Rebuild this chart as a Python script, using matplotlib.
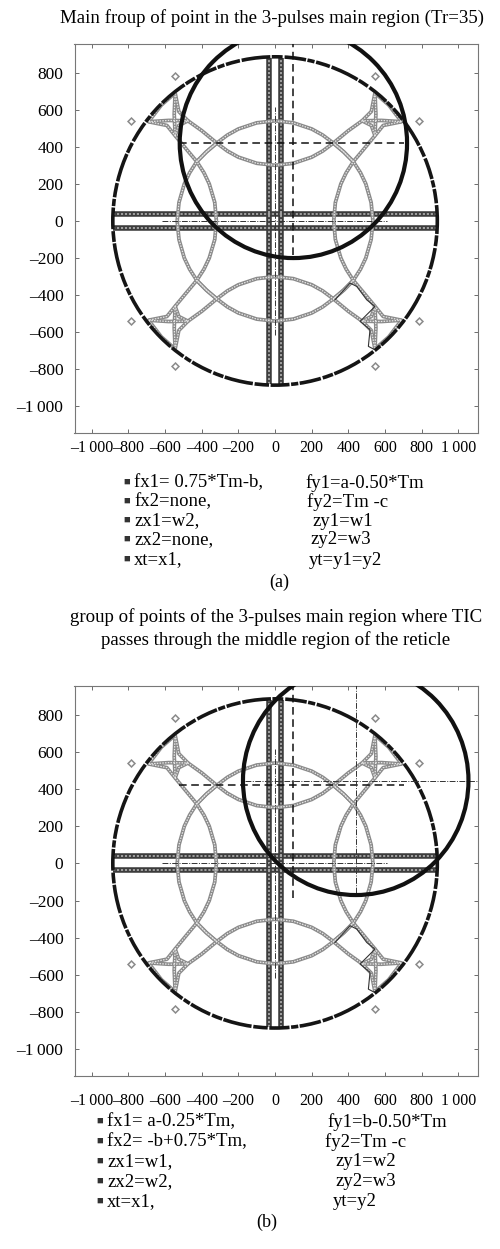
import matplotlib.pyplot as plt
from matplotlib.patches import Circle

plt.rcParams['font.family'] = ['Liberation Serif', 'DejaVu Serif']

W, H = 500, 1249

# ---- reticle geometry (same for both plots) ----
outer_r = 885
bar_x = [-35, 30]          # vertical double bar
bar_y = [38, -38]          # horizontal double bar
center_line = 615          # half length of the thin dash-dot centre cross

# upper-left quarter of the 3-pulse region boundary; other quarters are its mirror images
arc_upper_x = [0, -100, -200, -260, -318, -375, -427]
arc_upper_y = [540, 529, 496, 463, 420, 372, 320]
arc_lower_x = [0, -100, -200, -260, -318, -400, -475]
arc_lower_y = [300, 311, 344, 377, 420, 487, 540]
arc_inner_x = [-320, -329, -359, -388, -427, -488, -545]
arc_inner_y = [0, 100, 200, 260, 320, 392, 460]
arc_outer_x = [-534, -524, -495, -466, -427, -375, -318]
arc_outer_y = [0, 100, 200, 260, 320, 372, 420]
star_x = [-545, -525, -475, -525, -545, -590, -690, -620, -545]
star_y = [690, 590, 540, 515, 460, 515, 535, 625, 690]
star_vx = [-545, -550, -545]
star_vy = [690, 575, 460]
star_hx = [-690, -580, -475]
star_hy = [535, 542, 540]
lone_x = [-545, -785]
lone_y = [783, 541]

# solid trace through the lower-right corner
trace_x = [327, 409, 446, 500, 545, 464, 518, 509, 540]
trace_y = [-425, -335, -353, -425, -461, -541, -586, -676, -692]

# main dashed cross (centre of TIC for case a)
cross_x, cross_y = 100, 420
cross_h = [-525, 705]
cross_v = [-185, 960]

# TIC circles: (x centre, y centre, radius)
tic_a = (100, 420, 620)
tic_b = (440, 445, 615)
# thin cross through the TIC centre in case b
cross_b_h = [-165, 1110]
cross_b_v = [-160, 960]

xticks = [-1000, -800, -600, -400, -200, 0, 200, 400, 600, 800, 1000]
yticks = [-1000, -800, -600, -400, -200, 0, 200, 400, 600, 800]

title_a = 'Main froup of point in the 3-pulses main region (Tr=35)'
title_b = ['group of points of the 3-pulses main region where TIC',
           'passes through the middle region of the reticle']

legend_a_left = ['fx1= 0.75*Tm-b,', 'fx2=none,', 'zx1=w2,', 'zx2=none,', 'xt=x1,']
legend_a_right = ['fy1=a-0.50*Tm', 'fy2=Tm -c', 'zy1=w1', 'zy2=w3', 'yt=y1=y2']
legend_b_left = ['fx1= a-0.25*Tm,', 'fx2= -b+0.75*Tm,', 'zx1=w1,', 'zx2=w2,', 'xt=x1,']
legend_b_right = ['fy1=b-0.50*Tm', 'fy2=Tm -c', 'zy1=w2', 'zy2=w3', 'yt=y2']

DASHDOT = (0, (6, 1.5, 1, 1.5))


def fmt(v):
    s = f'{abs(v):,}'.replace(',', '\u2009')
    return ('\u2013' + s) if v < 0 else s


def textured(ax, x, y, dark, light, lw, inner_lw):
    ax.plot(x, y, color=dark, lw=lw, solid_capstyle='butt', zorder=3)
    ax.plot(x, y, color=light, lw=inner_lw, ls=(0, (1.2, 1.0)), zorder=3.1)


def draw_reticle(ax):
    # thick double bars
    for bx in bar_x:
        textured(ax, [bx, bx], [-880, 880], '#3c3c3c', '#a8a8a8', 4.0, 1.3)
    for by in bar_y:
        textured(ax, [-882, 882], [by, by], '#3c3c3c', '#a8a8a8', 4.0, 1.3)

    # boundary curves, mirrored into the four quarters
    for sx in (1, -1):
        for sy in (1, -1):
            for xs, ys in [(arc_upper_x, arc_upper_y), (arc_lower_x, arc_lower_y),
                           (arc_inner_x, arc_inner_y), (arc_outer_x, arc_outer_y),
                           (star_x, star_y), (star_vx, star_vy), (star_hx, star_hy)]:
                textured(ax, [sx * v for v in xs], [sy * v for v in ys],
                         '#8a8a8a', '#e8e8e8', 2.7, 0.9)
            ax.plot([sx * v for v in lone_x], [sy * v for v in lone_y], 'D', ms=3.5,
                    mfc='white', mec='#8a8a8a', mew=1.1, ls='none', zorder=3)

    ax.plot(trace_x, trace_y, color='#333333', lw=0.8, zorder=3.2)

    # outer field of view, broken line
    ax.add_patch(Circle((0, 0), outer_r, fill=False, ec='#151515', lw=2.6,
                        ls=(0, (4, 0.45, 2, 0.4, 6, 0.55, 3, 0.4, 8, 0.5)), zorder=4))

    # thin centre cross
    ax.plot([-center_line, center_line - 5], [0, 0], color='#333', lw=0.7,
            ls=DASHDOT, zorder=3.5)
    ax.plot([0, 0], [-center_line, center_line], color='#333', lw=0.7,
            ls=DASHDOT, zorder=3.5)

    # dashed cross
    ax.plot(cross_h, [cross_y, cross_y], color='#111', lw=1.1, ls=(0, (5, 3)), zorder=5)
    ax.plot([cross_x, cross_x], cross_v, color='#111', lw=1.1, ls=(0, (5, 3)), zorder=5)


def style_axes(ax, xpad):
    ax.set_xlim(-1094, 1107)
    ax.set_ylim(-1143, 954)
    ax.set_xticks(xticks)
    ax.set_xticklabels([fmt(v) for v in xticks], fontsize=11.5)
    ax.set_yticks(yticks)
    ax.set_yticklabels([fmt(v) for v in yticks], fontsize=12.5)
    ax.tick_params(axis='both', direction='in', top=True, right=True,
                   length=3, width=0.6, color='#555')
    ax.tick_params(axis='x', pad=xpad)
    ax.tick_params(axis='y', pad=8)
    for sp in ax.spines.values():
        sp.set_color('#777')
        sp.set_linewidth(0.8)


def legend_rows(left, right, marker_x, text_x, right_x, rows):
    for i, (lt, rt) in enumerate(zip(left, right)):
        fy = 1 - rows[i] / H
        fig.text(marker_x / W, fy + 0.001, '\u25a0', fontsize=8, color='#333',
                 ha='center', va='center')
        fig.text(text_x / W, fy, lt, fontsize=13.5, ha='left', va='center')
        fig.text(right_x[i] / W, fy, rt, fontsize=13.5, ha='left', va='center')


fig = plt.figure(figsize=(W / 100, H / 100), dpi=100)

# ---- (a) ----
ax_a = fig.add_axes([74.5 / W, 1 - 433 / H, (478 - 74.5) / W, (433 - 44) / H])
draw_reticle(ax_a)
ax_a.add_patch(Circle(tic_a[:2], tic_a[2], fill=False, ec='#111', lw=3.0, zorder=6))
style_axes(ax_a, 5)
fig.text(272 / W, 1 - 18 / H, title_a, fontsize=13.6, ha='center', va='center')
legend_rows(legend_a_left, legend_a_right, 127, 134,
            [305, 307, 312, 310, 309], [483, 502, 521, 540, 560])
fig.text(279 / W, 1 - 582 / H, '(a)', fontsize=13, ha='center', va='center')

# ---- (b) ----
ax_b = fig.add_axes([74.5 / W, 1 - 1076 / H, (478 - 74.5) / W, (1076 - 686) / H])
draw_reticle(ax_b)
ax_b.add_patch(Circle(tic_b[:2], tic_b[2], fill=False, ec='#111', lw=3.0, zorder=6))
ax_b.plot(cross_b_h, [tic_b[1], tic_b[1]], color='#333', lw=0.7, ls=DASHDOT, zorder=5)
ax_b.plot([tic_b[0], tic_b[0]], cross_b_v, color='#333', lw=0.7, ls=DASHDOT, zorder=5)
style_axes(ax_b, 12)
fig.text(276 / W, 1 - 617 / H, title_b[0], fontsize=13.6, ha='center', va='center')
fig.text(276 / W, 1 - 640 / H, title_b[1], fontsize=13.6, ha='center', va='center')
legend_rows(legend_b_left, legend_b_right, 100, 107,
            [327, 325, 335, 335, 333], [1122, 1142, 1162, 1182, 1202])
fig.text(267 / W, 1 - 1222 / H, '(b)', fontsize=13, ha='center', va='center')

fig.savefig('out.png', dpi=100)
